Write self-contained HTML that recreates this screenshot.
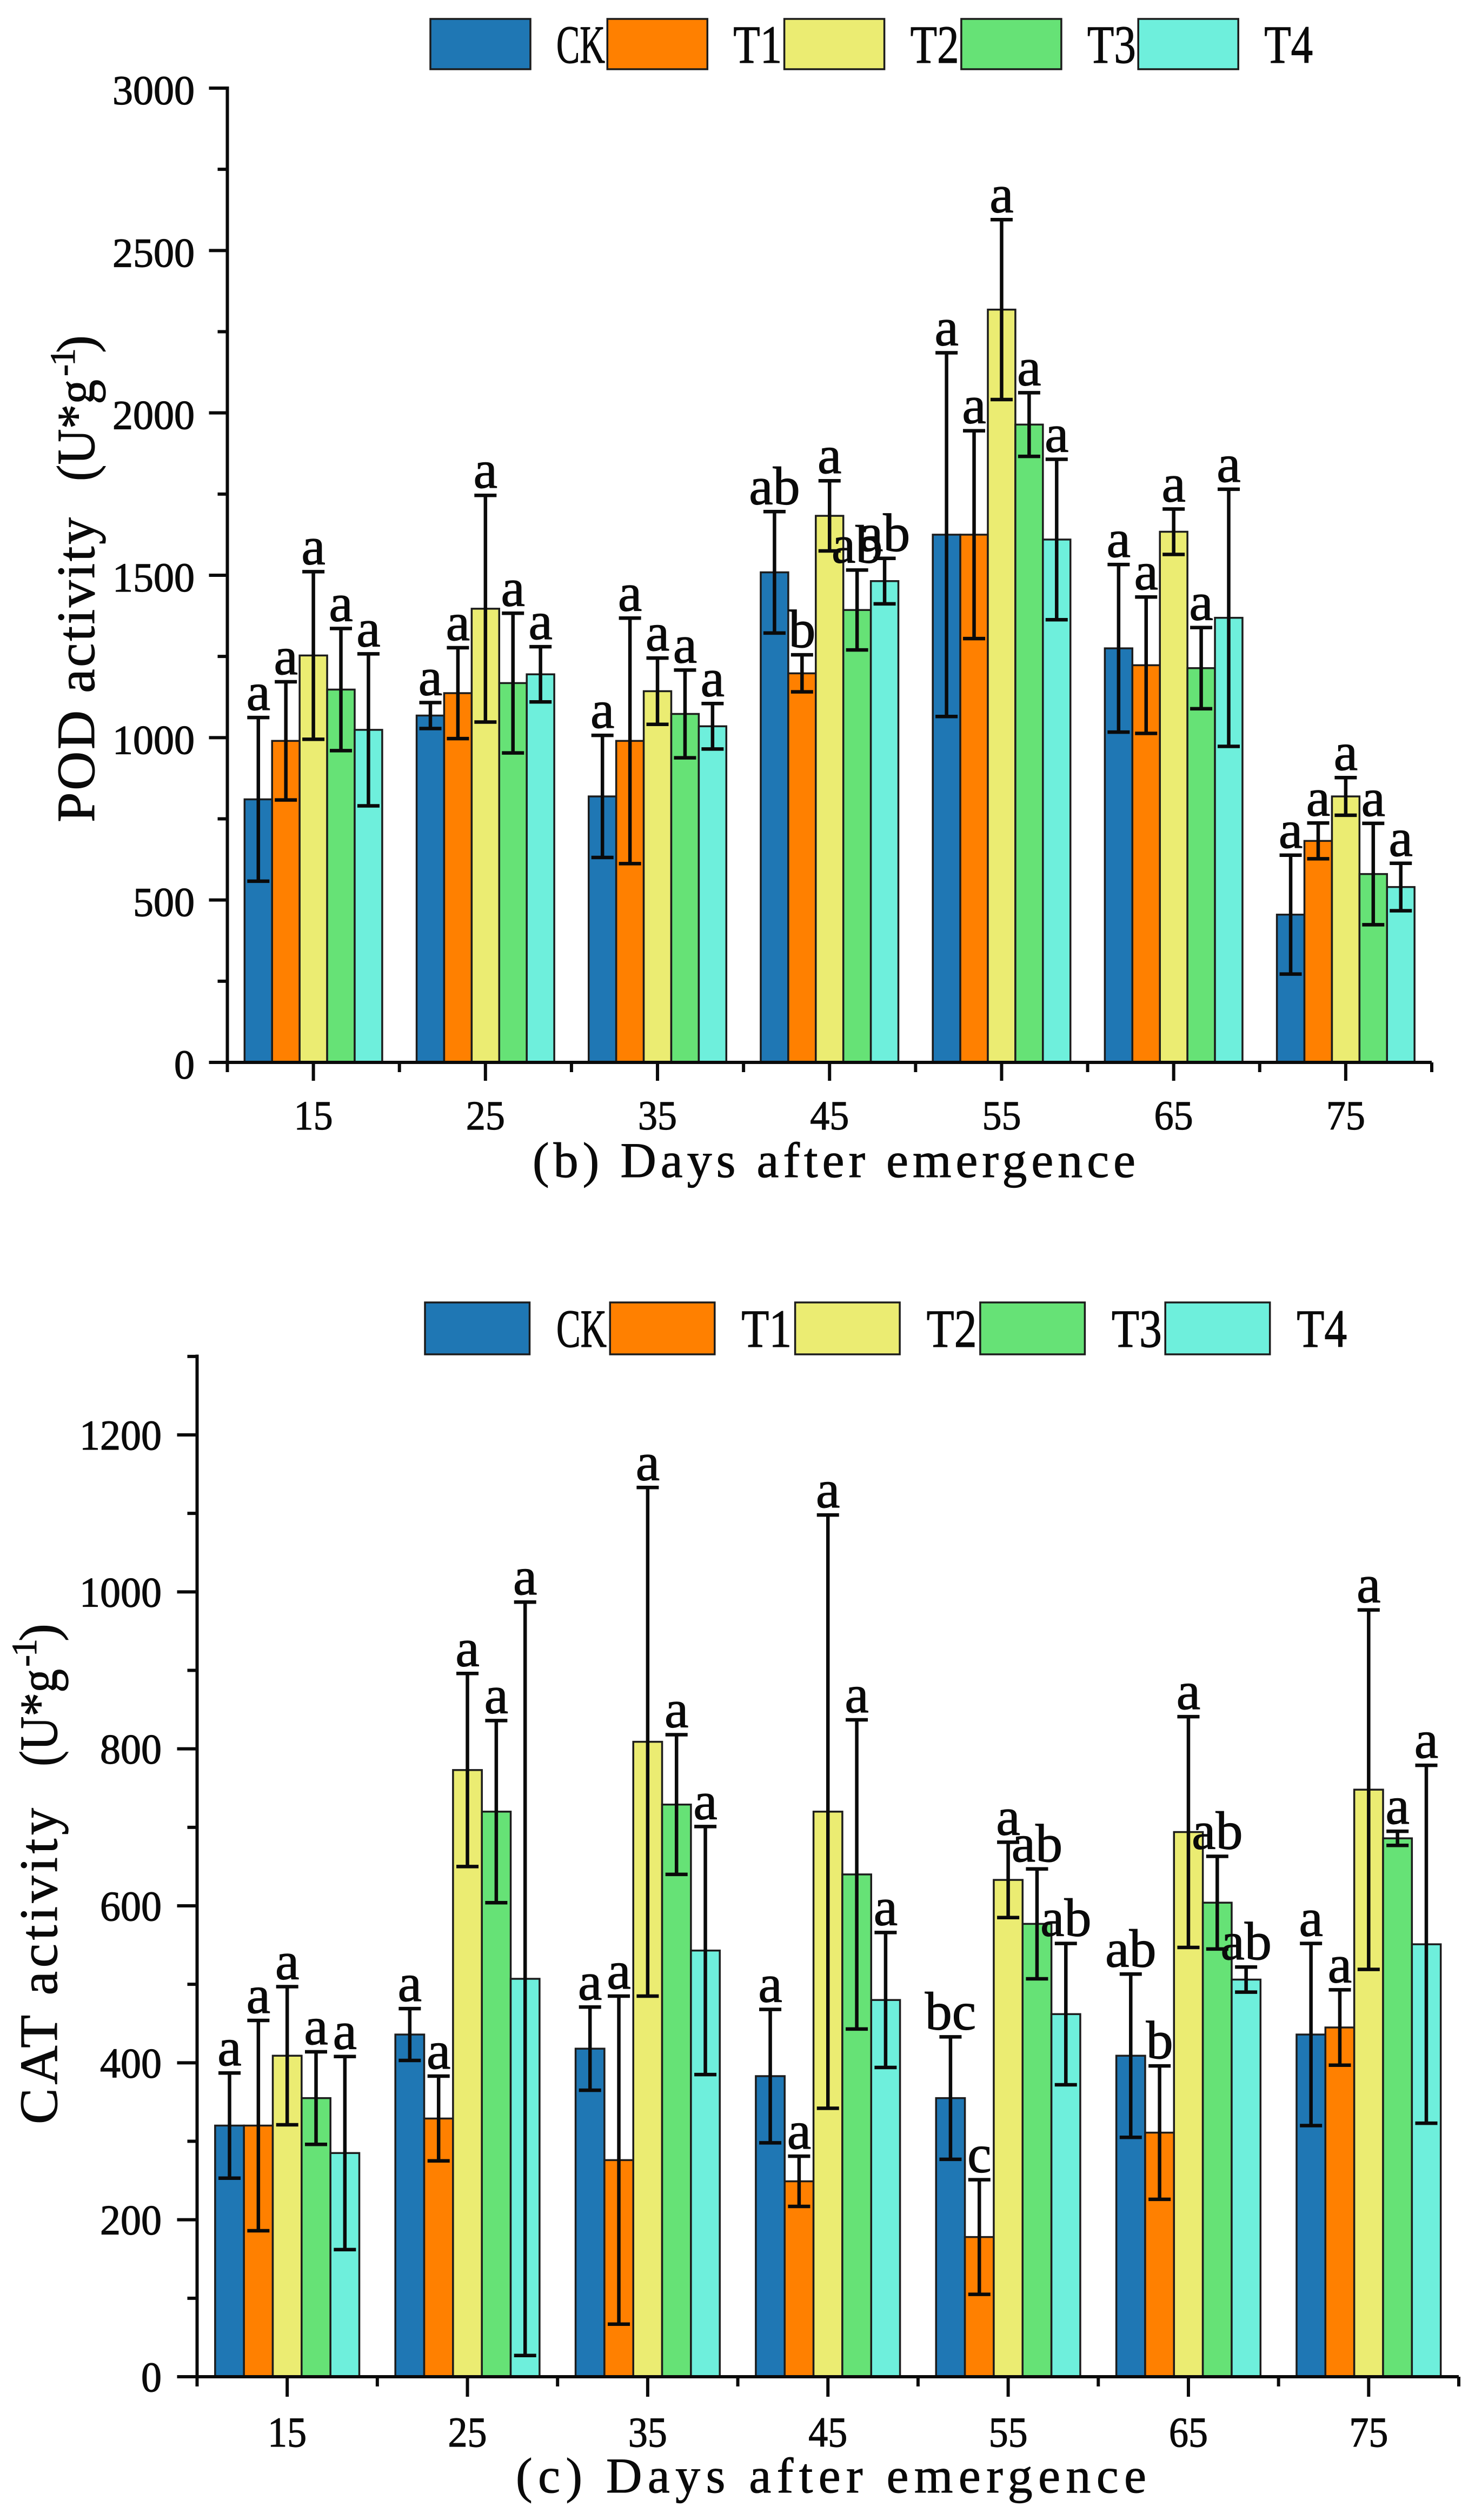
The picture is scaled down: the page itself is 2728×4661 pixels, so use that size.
<!DOCTYPE html>
<html lang="en">
<head>
<meta charset="utf-8">
<title>POD and CAT activity after emergence</title>
<style>
html,body{margin:0;padding:0;background:#fff;}
svg{display:block;}
text{fill:#0a0a0a;}
.serif{font-family:"Liberation Serif","Noto Serif CJK SC",serif;stroke:#0a0a0a;stroke-width:1.2px;}
.title{font-family:"Liberation Serif","Noto Serif CJK SC",serif;stroke:#0a0a0a;stroke-width:1px;}
</style>
</head>
<body>
<svg id="chart" xmlns="http://www.w3.org/2000/svg" width="2728" height="4661" viewBox="0 0 2728 4661">
  <rect x="0" y="0" width="2728" height="4661" fill="#ffffff"/>
  <g id="panel-b"></g>
  <g id="panel-c"></g>
  <text class="title" x="985" y="2177" font-size="92" textLength="1115" lengthAdjust="spacing" xml:space="preserve">(b) Days after emergence</text>
  <text class="title" x="954" y="4610" font-size="92" textLength="1166" lengthAdjust="spacing" xml:space="preserve">(c) Days after emergence</text>
  <g transform="translate(174,1521) rotate(-90)">
    <text class="title" x="0" y="0" font-size="100" textLength="564" lengthAdjust="spacing">POD activity</text>
    <text class="title" x="631" y="0" font-size="100" textLength="188" lengthAdjust="spacingAndGlyphs">(U*g</text>
    <text class="title" x="825" y="-36" font-size="66" textLength="52" lengthAdjust="spacing">-1</text>
    <text class="title" x="868" y="0" font-size="100" textLength="33" lengthAdjust="spacingAndGlyphs">)</text>
  </g>
  <g transform="translate(105,3929) rotate(-90)">
    <text class="title" x="0" y="0" font-size="100" textLength="585" lengthAdjust="spacing">CAT activity</text>
    <text class="title" x="662" y="0" font-size="100" textLength="180" lengthAdjust="spacingAndGlyphs">(U*g</text>
    <text class="title" x="846" y="-38" font-size="66" textLength="52" lengthAdjust="spacing">-1</text>
    <text class="title" x="893" y="0" font-size="100" textLength="33" lengthAdjust="spacingAndGlyphs">)</text>
  </g>
</svg>
<script>
var seriesNames = ['CK', 'T1', 'T2', 'T3', 'T4'];
var seriesColors = ['#1f77b4', '#ff8000', '#ebec72', '#66e276', '#6eefdc'];
var days = ['15', '25', '35', '45', '55', '65', '75'];

var podTicks = [0, 500, 1000, 1500, 2000, 2500, 3000];
var podMinorTicks = [250, 750, 1250, 1750, 2250, 2750];
var podCK = [810, 1068, 819, 1509, 1625, 1275, 455];
var podT1 = [990, 1137, 990, 1198, 1625, 1223, 682];
var podT2 = [1253, 1397, 1143, 1683, 2318, 1634, 819];
var podT3 = [1148, 1168, 1073, 1393, 1964, 1214, 580];
var podT4 = [1024, 1195, 1035, 1482, 1610, 1369, 540];
var podErrCK = [252, 40, 188, 187, 560, 258, 183];
var podErrT1 = [182, 140, 378, 57, 320, 210, 55];
var podErrT2 = [258, 349, 102, 108, 277, 70, 58];
var podErrT3 = [188, 215, 135, 123, 98, 125, 156];
var podErrT4 = [234, 85, 70, 70, 247, 396, 73];
var podSigCK = ['a', 'a', 'a', 'ab', 'a', 'a', 'a'];
var podSigT1 = ['a', 'a', 'a', 'b', 'a', 'a', 'a'];
var podSigT2 = ['a', 'a', 'a', 'a', 'a', 'a', 'a'];
var podSigT3 = ['a', 'a', 'a', 'ab', 'a', 'a', 'a'];
var podSigT4 = ['a', 'a', 'a', 'ab', 'a', 'a', 'a'];

var catTicks = [0, 200, 400, 600, 800, 1000, 1200];
var catMinorTicks = [100, 300, 500, 700, 900, 1100, 1300];
var catCK = [320, 436, 418, 383, 355, 409, 436];
var catT1 = [320, 329, 276, 249, 178, 311, 445];
var catT2 = [409, 773, 809, 720, 633, 694, 748];
var catT3 = [355, 720, 729, 640, 577, 604, 686];
var catT4 = [285, 507, 543, 480, 462, 506, 551];
var catErrCK = [67, 33, 53, 85, 78, 104, 116];
var catErrT1 = [134, 54, 209, 32, 73, 85, 48];
var catErrT2 = [88, 123, 324, 378, 48, 147, 229];
var catErrT3 = [59, 116, 89, 197, 70, 59, 9];
var catErrT4 = [123, 480, 158, 86, 90, 16, 228];
var catSigCK = ['a', 'a', 'a', 'a', 'bc', 'ab', 'a'];
var catSigT1 = ['a', 'a', 'a', 'a', 'c', 'b', 'a'];
var catSigT2 = ['a', 'a', 'a', 'a', 'a', 'a', 'a'];
var catSigT3 = ['a', 'a', 'a', 'a', 'ab', 'ab', 'a'];
var catSigT4 = ['a', 'a', 'a', 'a', 'ab', 'ab', 'a'];

var NS = 'http://www.w3.org/2000/svg';

function make(parent, tag, attrs, content) {
  var el = document.createElementNS(NS, tag);
  for (var k in attrs) { el.setAttribute(k, attrs[k]); }
  if (content !== undefined) { el.textContent = content; }
  parent.appendChild(el);
  return el;
}

function drawPanel(p) {
  var root = document.getElementById(p.id);
  var n = p.means.length;
  var m = days.length;
  var step = (p.xEnd - p.xStart) / m;
  var barW = step * 0.8 / n;
  function X(i, s) { return p.xStart + step * (i + 0.5) + (s - (n - 1) / 2) * barW; }
  function XC(i) { return p.xStart + step * (i + 0.5); }
  function Y(v) { return p.y0 - v * (p.y0 - p.yTop) / p.yMax; }

  // bars
  for (var s = 0; s < n; s++) {
    for (var i = 0; i < m; i++) {
      var bar = make(root, 'rect', {
        x: X(i, s) - barW / 2, y: Y(p.means[s][i]), width: barW, height: p.y0 - Y(p.means[s][i]),
        fill: seriesColors[s], stroke: '#1c1c1c', 'stroke-width': 3.5
      });
      
      
    }
  }

  // error bars and significance letters
  for (var s2 = 0; s2 < n; s2++) {
    for (var j = 0; j < m; j++) {
      var cx = X(j, s2);
      var hi = Y(p.means[s2][j] + p.errs[s2][j]);
      var lo = Y(p.means[s2][j] - p.errs[s2][j]);
      var eb = make(root, 'path', {
        d: 'M' + cx + ' ' + hi + 'V' + lo + 'M' + (cx - 20.5) + ' ' + hi + 'H' + (cx + 20.5) + 'M' + (cx - 20.5) + ' ' + lo + 'H' + (cx + 20.5),
        stroke: '#0a0a0a', 'stroke-width': 6.5, fill: 'none'
      });
      
      
      var sig = make(root, 'text', {
        x: cx, y: hi - 14, 'font-size': 100, 'text-anchor': 'middle', 'class': 'serif'
      }, p.sig[s2][j]);
      
      
    }
  }

  // axes
  var yAxis = make(root, 'line', { x1: p.xStart, x2: p.xStart, y1: p.axisTop - 3, y2: p.y0 + 3, stroke: '#0a0a0a', 'stroke-width': 6 });
  
  
  var xAxis = make(root, 'line', { x1: p.xStart - p.majorLen, x2: p.xEnd, y1: p.y0, y2: p.y0, stroke: '#0a0a0a', 'stroke-width': 6 });
  
  

  // y ticks
  p.ticks.forEach(function (t) {
    var tk = make(root, 'line', { x1: p.xStart - p.majorLen, x2: p.xStart, y1: Y(t), y2: Y(t), stroke: '#0a0a0a', 'stroke-width': 6 });
    
    
    var label = String(t);
    var lb = make(root, 'text', {
      x: p.yLabelRight, y: Y(t) + p.yLabelDy, 'font-size': p.tickFont, 'text-anchor': 'end', 'class': 'serif',
      textLength: label.length * 38, lengthAdjust: 'spacingAndGlyphs'
    }, label);
    
    
  });
  p.minorTicks.forEach(function (t) {
    var tk = make(root, 'line', { x1: p.xStart - p.minorLen, x2: p.xStart, y1: Y(t), y2: Y(t), stroke: '#0a0a0a', 'stroke-width': 6 });
    
    
  });

  // x ticks
  days.forEach(function (d, i) {
    var tk = make(root, 'line', { x1: XC(i), x2: XC(i), y1: p.y0, y2: p.y0 + p.majorLen, stroke: '#0a0a0a', 'stroke-width': 6 });
    
    
    var lb = make(root, 'text', {
      x: XC(i), y: p.xLabelY, 'font-size': p.tickFont, 'text-anchor': 'middle', 'class': 'serif',
      textLength: 72, lengthAdjust: 'spacingAndGlyphs'
    }, d);
    
    
  });
  for (var e = 0; e <= m; e++) {
    var mt = make(root, 'line', { x1: p.xStart + step * e, x2: p.xStart + step * e, y1: p.y0, y2: p.y0 + p.minorLen, stroke: '#0a0a0a', 'stroke-width': 6 });
    
    
  }

  // legend
  seriesNames.forEach(function (name, k) {
    var sw = make(root, 'rect', {
      x: p.legendX + k * p.legendStep, y: p.legendY, width: p.legendW, height: p.legendH,
      fill: seriesColors[k], stroke: '#1c1c1c', 'stroke-width': 3.5
    });
    
    
    var lt = make(root, 'text', {
      x: p.legendTextX + k * p.legendStep, y: p.legendBaseline, 'font-size': 100, 'class': 'serif',
      textLength: p.legendTextW, lengthAdjust: 'spacingAndGlyphs'
    }, name);
    
    
  });
}

drawPanel({
  id: 'panel-b',
  means: [podCK, podT1, podT2, podT3, podT4],
  errs: [podErrCK, podErrT1, podErrT2, podErrT3, podErrT4],
  sig: [podSigCK, podSigT1, podSigT2, podSigT3, podSigT4],
  ticks: podTicks, minorTicks: podMinorTicks,
  xStart: 420.5, xEnd: 2648, y0: 1965, yTop: 163, yMax: 3000, axisTop: 163,
  majorLen: 34, minorLen: 18, yLabelRight: 360, yLabelDy: 30, xLabelY: 2089, tickFont: 76,
  legendX: 796, legendY: 35, legendW: 185, legendH: 93, legendStep: 327.3,
  legendTextX: 1029, legendBaseline: 116, legendTextW: 90
});

drawPanel({
  id: 'panel-c',
  means: [catCK, catT1, catT2, catT3, catT4],
  errs: [catErrCK, catErrT1, catErrT2, catErrT3, catErrT4],
  sig: [catSigCK, catSigT1, catSigT2, catSigT3, catSigT4],
  ticks: catTicks, minorTicks: catMinorTicks,
  xStart: 364.5, xEnd: 2698, y0: 4396, yTop: 2654, yMax: 1200, axisTop: 2508.5,
  majorLen: 37, minorLen: 18, yLabelRight: 299, yLabelDy: 27, xLabelY: 4525, tickFont: 78,
  legendX: 786, legendY: 2409, legendW: 193.5, legendH: 96, legendStep: 342.3,
  legendTextX: 1029, legendBaseline: 2491, legendTextW: 93
});
</script>
</body>
</html>
